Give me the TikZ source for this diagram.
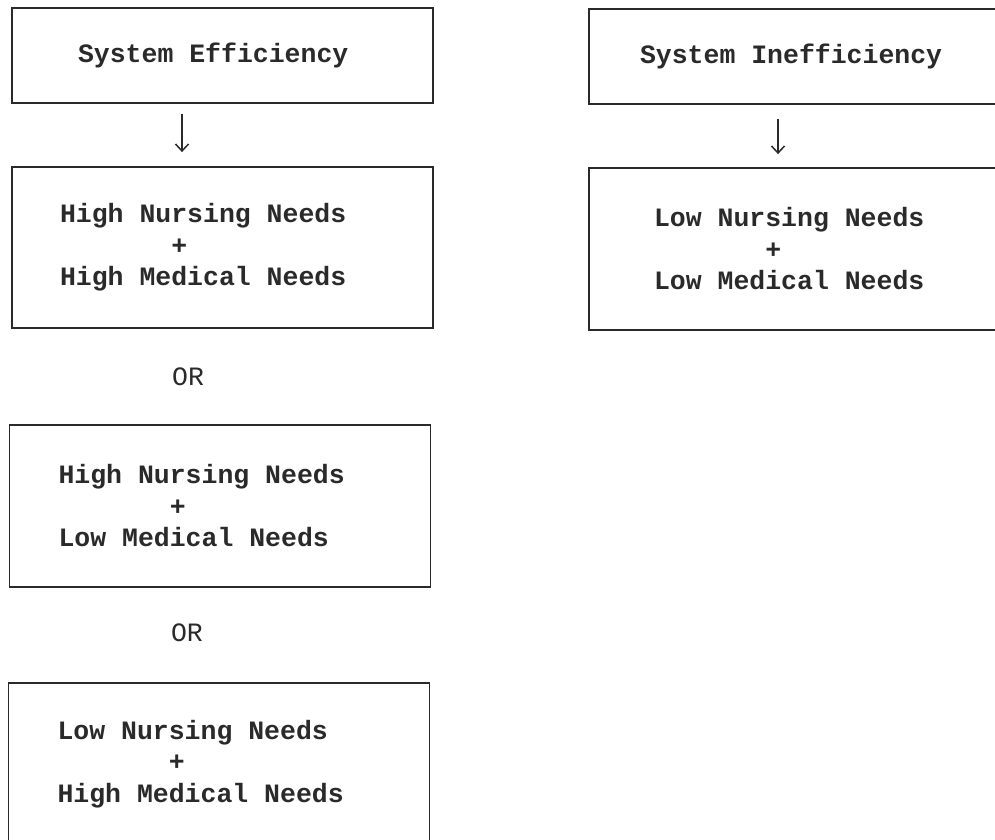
\documentclass[tikz,border=0pt]{standalone}
\usepackage{fontspec}
\usetikzlibrary{arrows.meta}
\newfontfamily\typefont[WordSpace={1,0,0}]{Liberation Mono}
\definecolor{inkgray}{HTML}{2A2A2A}

\newcommand{\plusrow}{\phantom{0000000}+}

\tikzset{
	box/.style={draw=inkgray, line width=1.8pt, minimum height=#1, inner ysep=0pt,
		align=flush left, text=inkgray, font=\typefont\bfseries\fontsize{26.5}{31.5}\selectfont,
		execute at begin node={\spaceskip=0.6em\relax}},
	ortext/.style={text=inkgray, font=\typefont\fontsize{26.5}{31.5}\selectfont},
	arr/.style={-{Straight Barb[length=7pt,width=13pt]}, draw=inkgray, line width=1.5pt}
}

\begin{document}
\begin{tikzpicture}[x=1pt,y=-1pt]

	\useasboundingbox (0,0) rectangle (995,839);

	% left column
	\node[box=95, inner xsep=66pt, text width=289pt] (se) at (222.5,55.5) {System Efficiency};
	\node[box=161, inner xsep=48pt, text width=325pt] (hh) at (222.5,247.5)
		{High Nursing Needs\\ \plusrow\\ High Medical Needs};
	\node[ortext] (or1) at (188,377) {OR};
	\node[box=162, inner xsep=49pt, text width=323pt] (hl) at (220,506)
		{High Nursing Needs\\ \plusrow\\ Low Medical Needs};
	\node[ortext] (or2) at (187,633) {OR};
	\node[box=162, inner xsep=49pt, text width=323pt] (lh) at (219,764)
		{Low Nursing Needs\\ \plusrow\\ High Medical Needs};

	% right column
	\node[box=95, inner xsep=51pt, text width=319pt] (si) at (799.5,56.5) {System Inefficiency};
	\node[box=162, inner xsep=65pt, text width=291pt] (ll) at (799.5,249)
		{Low Nursing Needs\\ \plusrow\\ Low Medical Needs};

	\draw[arr, shorten <=10pt, shorten >=14pt] ([xshift=-40.5pt]se.south) -- ([xshift=-40.5pt]hh.north);
	\draw[arr, shorten <=14pt, shorten >=13pt] ([xshift=-21.5pt]si.south) -- ([xshift=-21.5pt]ll.north);

\end{tikzpicture}
\end{document}
